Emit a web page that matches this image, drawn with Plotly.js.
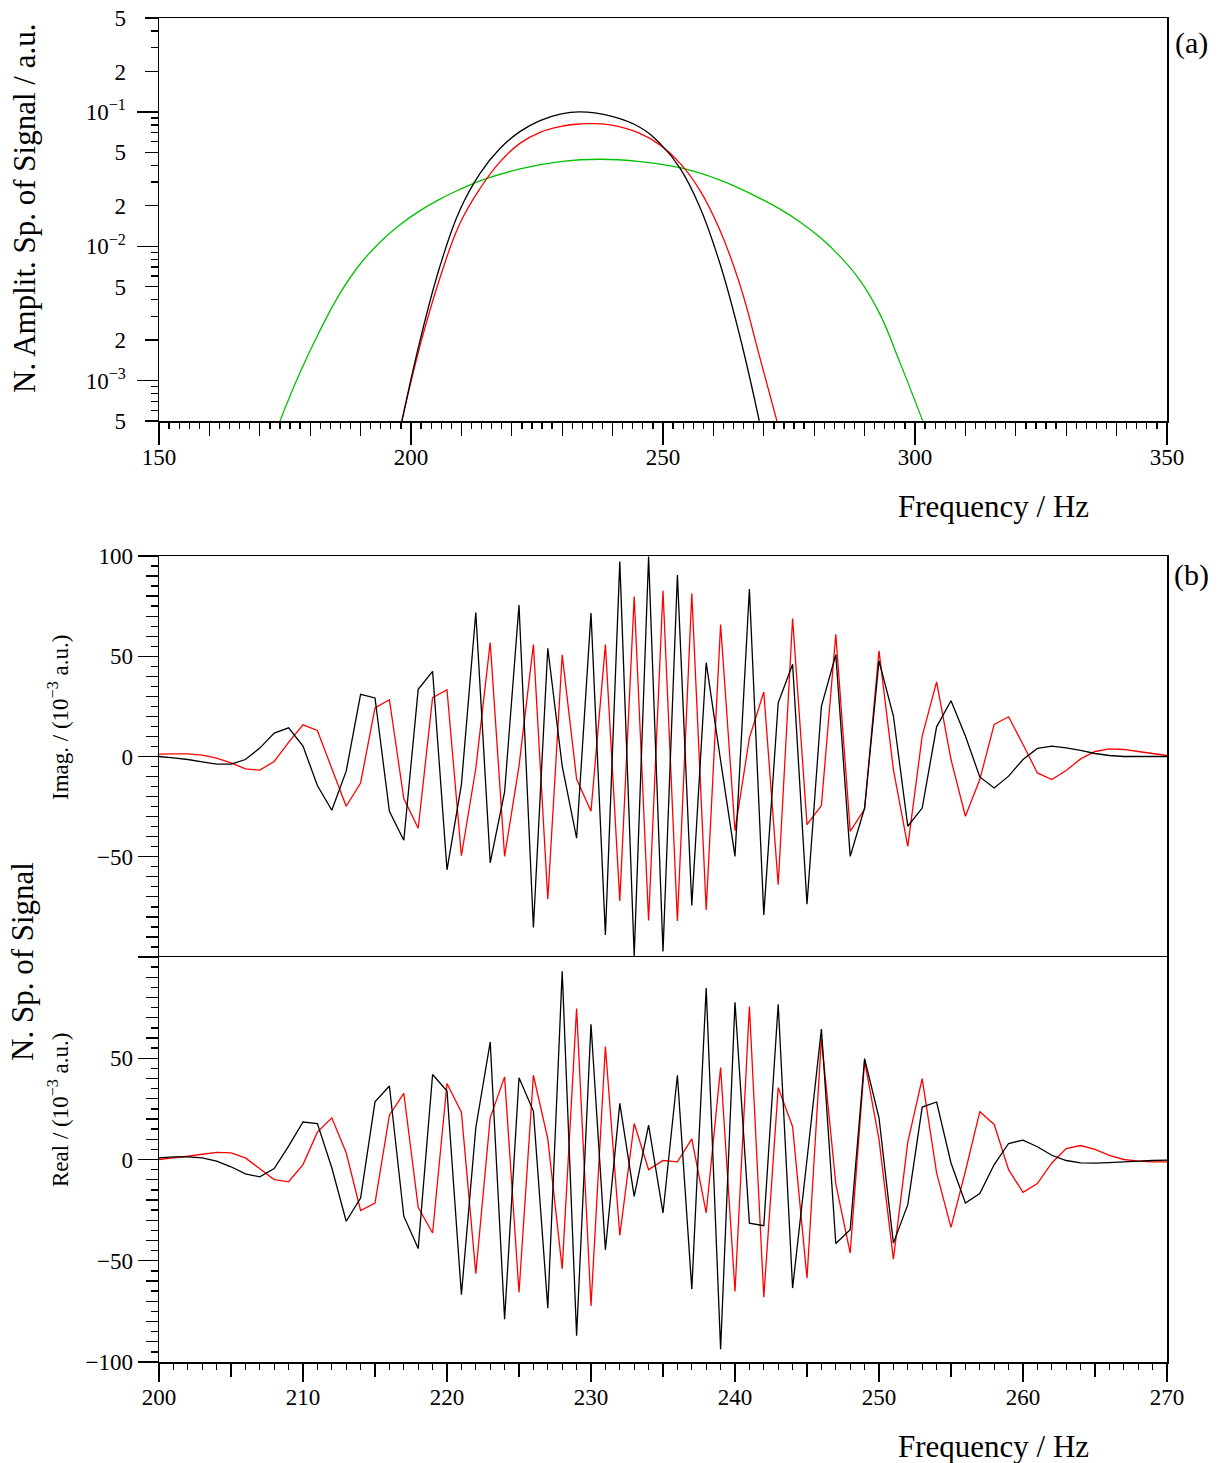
<!DOCTYPE html>
<html><head><meta charset="utf-8">
<script src="https://cdn.plot.ly/plotly-3.0.1.min.js"></script>
<style>html,body{margin:0;padding:0;background:#fff}#chart{width:1221px;height:1463px}</style>
</head><body><div id="chart"></div><script>
// ---- Panel (a): normalized amplitude spectra (log scale) ----
const ampFreqBlack = [198.2, 201.8, 205.8, 209.7, 213.7, 217.7, 221.6, 225.6, 229.6, 233.5, 239.5, 245.4, 249.4, 253.4, 257.3, 261.3, 265.3, 269.1];
const ampBlack = [0.000501, 0.00199, 0.00721, 0.01858, 0.0349, 0.0536, 0.0713, 0.0861, 0.0962, 0.1, 0.0933, 0.0769, 0.0583, 0.0380, 0.0196, 0.00743, 0.00210, 0.000501];
const ampFreqRed = [198.2, 201.8, 205.8, 209.7, 213.7, 217.7, 221.6, 225.6, 229.6, 233.5, 235.5, 239.5, 245.4, 249.4, 253.4, 257.3, 261.3, 265.3, 269.2, 272.6];
const ampRed = [0.000501, 0.00182, 0.00590, 0.01476, 0.0269, 0.0426, 0.0583, 0.0705, 0.0778, 0.0813, 0.0818, 0.0800, 0.0693, 0.0568, 0.0414, 0.0262, 0.01315, 0.00512, 0.00149, 0.000501];
const ampFreqGreen = [174.0, 177.98, 181.94, 185.91, 189.88, 193.85, 197.82, 201.79, 205.75, 209.72, 213.69, 221.63, 229.56, 237.5, 245.44, 253.37, 261.31, 265.28, 269.25, 273.21, 277.18, 281.15, 285.12, 289.09, 293.06, 297.02, 301.53];
const ampGreen = [0.000501, 0.001148, 0.00236, 0.00446, 0.00734, 0.01072, 0.01445, 0.01841, 0.02244, 0.0265, 0.0307, 0.0376, 0.0426, 0.0444, 0.0426, 0.0384, 0.0311, 0.02685, 0.0227, 0.01888, 0.01517, 0.01167, 0.00841, 0.00557, 0.00311, 0.00136, 0.000501];

// ---- Panel (b): imaginary and real parts (10^-3 a.u.) ----
const freq = [200,201,202,203,204,205,206,207,208,209,210,211,212,213,214,215,216,217,218,219,220,221,222,223,224,225,226,227,228,229,230,231,232,233,234,235,236,237,238,239,240,241,242,243,244,245,246,247,248,249,250,251,252,253,254,255,256,257,258,259,260,261,262,263,264,265,266,267,268,269,270];
const imagBlack = [0,-0.7,-1.5,-2.7,-3.8,-3.8,-1.5,4.2,11.7,14.3,5.2,-14.5,-26.8,-7.3,31,29.2,-27.3,-41.8,33.5,42.5,-56.5,-14,71.8,-53,-17.7,75.5,-85.3,54,-4.8,-40.7,71.5,-89,97.2,-99.5,99.8,-97.3,90.5,-74.3,46.8,-2,-49.8,83.5,-79,26.8,46,-73.7,25,50.8,-49.8,-25.7,47.7,20.2,-34.8,-25.7,14.8,27.8,10.2,-10.2,-15.7,-9.8,-1.5,4,5.2,4.3,3,1.5,0.5,0,0,0,0];
const imagRed = [1.2,1.3,1.3,0.7,-0.8,-3.2,-6.2,-6.8,-2.5,7,15.8,13,-6,-24.8,-13.2,24.2,28.3,-21,-35.8,29.3,33.3,-49.5,-6,56.8,-49.8,-4.8,55.8,-71.2,50.7,-11.2,-27.3,55.8,-72,79.8,-81.8,82.7,-82,81.3,-76.5,65.8,-37,9.3,32.2,-64,68.8,-34,-24.5,61,-37.3,-26.2,52.7,-6.5,-44.8,10.2,37.2,-1.5,-29.8,-11.5,16,19.8,6,-8.2,-11.5,-7,-1.2,2.5,3.8,3.5,2.5,1.5,0.5];
const realBlack = [0.8,1.3,1.3,0.8,-0.8,-3.6,-7.1,-8.6,-4.5,6.6,18.5,17.7,-4.1,-30.5,-19,28.5,36.3,-28,-44,42,33.8,-66.8,15.7,58,-78.9,40.4,23.9,-73.4,92.9,-87,66.8,-44.6,27.7,-18.2,17,-26.4,41.6,-64,84.7,-93.7,77.6,-31.4,-32.7,76.7,-63.5,0,64.4,-41.5,-34.7,49.8,20.6,-41.3,-22.3,25.9,28.4,-1.7,-21.5,-16.8,-2.5,7.9,9.6,6.3,2.1,-0.5,-1.7,-1.8,-1.5,-1.2,-0.8,-0.5,-0.3];
const realRed = [0,0.8,1.6,2.6,3.5,3.3,0.8,-4.6,-9.9,-11,-2.5,13.5,20.6,3.3,-25.2,-21.5,21.9,32.7,-23.6,-36.3,37.5,23.4,-56.4,20.6,40.8,-65.7,41.6,10.2,-54,74.6,-72.3,55.8,-37.5,17.8,-5,-0.5,-1.2,10.2,-26.4,45.4,-65.2,75.6,-68,35.5,16.2,-58.6,59.7,-12,-46.2,48.7,9.9,-49.2,8.6,39.9,-6.6,-33.5,-5.8,23.6,17.3,-5,-16.2,-11.9,-1.7,5.4,6.9,5,2,0,-0.8,-1.2,-1.2];

// tick labels
const ampTickVals = [0.0005, 0.001, 0.002, 0.005, 0.01, 0.02, 0.05, 0.1, 0.2, 0.5];
const ampTickText = ['5', '10<sup>−3</sup>', '2', '5', '10<sup>−2</sup>', '2', '5', '10<sup>−1</sup>', '2', '5'];
const ampDecades = [0.001, 0.01, 0.1];
const ampMinor = [0.0006,0.0007,0.0008,0.0009,0.003,0.004,0.006,0.007,0.008,0.009,0.03,0.04,0.06,0.07,0.08,0.09,0.3,0.4];
const imagTickVals = [-100, -50, 0, 50, 100];
const imagTickText = ['', '−50', '0', '50', '100'];
const realTickVals = [-100, -50, 0, 50, 100];
const realTickText = ['−100', '−50', '0', '50', ''];

const W = 1221, H = 1463;
const FONT = 'Liberation Serif, Times New Roman, serif';
const px = v => v / W, py = v => 1 - v / H;
const xdom = [px(159), px(1167)];
const lw = 1.3;

const traces = [
  {x: ampFreqGreen, y: ampGreen, mode: 'lines', line: {color: '#00c000', width: lw, shape: 'spline', smoothing: 1.2, simplify: false}, xaxis: 'x', yaxis: 'y'},
  {x: ampFreqRed, y: ampRed, mode: 'lines', line: {color: '#ff0000', width: lw, shape: 'spline', smoothing: 1.2, simplify: false}, xaxis: 'x', yaxis: 'y'},
  {x: ampFreqBlack, y: ampBlack, mode: 'lines', line: {color: '#000000', width: lw, shape: 'spline', smoothing: 1.2, simplify: false}, xaxis: 'x', yaxis: 'y'},
  {x: freq, y: imagRed, mode: 'lines', line: {color: '#ff0000', width: lw, simplify: false}, xaxis: 'x2', yaxis: 'y2'},
  {x: freq, y: imagBlack, mode: 'lines', line: {color: '#000000', width: lw, simplify: false}, xaxis: 'x2', yaxis: 'y2'},
  {x: freq, y: realRed, mode: 'lines', line: {color: '#ff0000', width: lw, simplify: false}, xaxis: 'x3', yaxis: 'y3'},
  {x: freq, y: realBlack, mode: 'lines', line: {color: '#000000', width: lw, simplify: false}, xaxis: 'x3', yaxis: 'y3'},
  // empty traces that only create the tick-only overlay axes
  {x: [], y: [], mode: 'lines', xaxis: 'x4', yaxis: 'y', hoverinfo: 'skip'},
  {x: [], y: [], mode: 'lines', xaxis: 'x', yaxis: 'y4', hoverinfo: 'skip'},
  {x: [], y: [], mode: 'lines', xaxis: 'x5', yaxis: 'y3', hoverinfo: 'skip'},
  {x: [], y: [], mode: 'lines', xaxis: 'x2', yaxis: 'y5', hoverinfo: 'skip'},
  {x: [], y: [], mode: 'lines', xaxis: 'x3', yaxis: 'y6', hoverinfo: 'skip'}
];

const tickFont = {family: FONT, size: 23, color: '#000'};
const base = {showgrid: false, zeroline: false, linecolor: '#000', linewidth: 1.5, tickcolor: '#000', tickwidth: 1.3, tickfont: tickFont, fixedrange: true};
const overlayBase = {showgrid: false, zeroline: false, showline: false, showticklabels: false, tickcolor: '#000', tickwidth: 1.3, ticks: 'outside', fixedrange: true};

const layout = {
  width: W, height: H,
  margin: {l: 0, r: 0, t: 0, b: 0},
  paper_bgcolor: '#fff', plot_bgcolor: '#fff',
  showlegend: false,
  font: {family: FONT, color: '#000'},
  xaxis: Object.assign({}, base, {domain: xdom, anchor: 'y', range: [150, 350], autorange: false, showline: true, mirror: true,
    ticks: 'outside', ticklen: 22, tickmode: 'array', tickvals: [150, 200, 250, 300, 350], ticklabelstandoff: -7,
    minor: {ticks: 'outside', ticklen: 13, dtick: 10, tick0: 150, tickcolor: '#000', tickwidth: 1.3}}),
  yaxis: Object.assign({}, base, {domain: [py(421), py(18)], anchor: 'x', type: 'log', range: [Math.log10(0.0005), Math.log10(0.5)], autorange: false,
    showline: true, mirror: true, ticks: 'outside', ticklen: 13, tickmode: 'array', tickvals: ampTickVals, ticktext: ampTickText, ticklabelstandoff: 14,
    minor: {ticks: 'outside', ticklen: 7, tickmode: 'array', tickvals: ampMinor, tickcolor: '#000', tickwidth: 1.3}}),
  xaxis4: Object.assign({}, overlayBase, {overlaying: 'x', anchor: 'y', range: [150, 350], autorange: false, tickmode: 'linear', dtick: 2, tick0: 150, ticklen: 7}),
  yaxis4: Object.assign({}, overlayBase, {overlaying: 'y', anchor: 'x', type: 'log', range: [Math.log10(0.0005), Math.log10(0.5)], autorange: false,
    tickmode: 'array', tickvals: ampDecades, ticklen: 21}),
  xaxis2: Object.assign({}, base, {domain: xdom, anchor: 'y2', side: 'top', range: [200, 270], autorange: false, showline: true, mirror: false, ticks: '', showticklabels: false}),
  yaxis2: Object.assign({}, base, {domain: [py(957), py(556)], anchor: 'x2', range: [-100, 100], autorange: false, showline: true, mirror: true,
    ticks: 'outside', ticklen: 20, tickmode: 'array', tickvals: imagTickVals, ticktext: imagTickText,
    minor: {ticks: 'outside', ticklen: 7, dtick: 5, tick0: 0, tickcolor: '#000', tickwidth: 1.3}}),
  yaxis5: Object.assign({}, overlayBase, {overlaying: 'y2', anchor: 'x2', range: [-100, 100], autorange: false, tickmode: 'linear', dtick: 10, tick0: 0, ticklen: 12}),
  xaxis3: Object.assign({}, base, {domain: xdom, anchor: 'y3', range: [200, 270], autorange: false, showline: true, mirror: true,
    ticks: 'outside', ticklen: 18, tickmode: 'linear', dtick: 10, tick0: 200, ticklabelstandoff: -4,
    minor: {ticks: 'outside', ticklen: 13, dtick: 5, tick0: 200, tickcolor: '#000', tickwidth: 1.3}}),
  xaxis5: Object.assign({}, overlayBase, {overlaying: 'x3', anchor: 'y3', range: [200, 270], autorange: false, tickmode: 'linear', dtick: 1, tick0: 200, ticklen: 7}),
  yaxis3: Object.assign({}, base, {domain: [py(1362), py(957)], anchor: 'x3', range: [-100, 100], autorange: false, showline: true, mirror: true,
    ticks: 'outside', ticklen: 20, tickmode: 'array', tickvals: realTickVals, ticktext: realTickText,
    minor: {ticks: 'outside', ticklen: 7, dtick: 5, tick0: 0, tickcolor: '#000', tickwidth: 1.3}}),
  yaxis6: Object.assign({}, overlayBase, {overlaying: 'y3', anchor: 'x3', range: [-100, 100], autorange: false, tickmode: 'linear', dtick: 10, tick0: 0, ticklen: 12}),
  annotations: [
    {text: '(a)', xref: 'paper', yref: 'paper', x: px(1191), y: py(43), xanchor: 'center', yanchor: 'middle', showarrow: false, font: {family: FONT, size: 30}},
    {text: '(b)', xref: 'paper', yref: 'paper', x: px(1191), y: py(575), xanchor: 'center', yanchor: 'middle', showarrow: false, font: {family: FONT, size: 30}},
    {text: 'Frequency / Hz', xref: 'paper', yref: 'paper', x: px(993), y: py(506), xanchor: 'center', yanchor: 'middle', showarrow: false, font: {family: FONT, size: 31}},
    {text: 'Frequency / Hz', xref: 'paper', yref: 'paper', x: px(993), y: py(1446), xanchor: 'center', yanchor: 'middle', showarrow: false, font: {family: FONT, size: 31}},
    {text: 'N. Amplit. Sp. of Signal / a.u.', textangle: -90, xref: 'paper', yref: 'paper', x: px(25), y: py(209), xanchor: 'center', yanchor: 'middle', showarrow: false, font: {family: FONT, size: 31}},
    {text: 'N. Sp. of Signal', textangle: -90, xref: 'paper', yref: 'paper', x: px(22), y: py(962), xanchor: 'center', yanchor: 'middle', showarrow: false, font: {family: FONT, size: 31}},
    {text: 'Imag. / (10<sup>−3</sup> a.u.)', textangle: -90, xref: 'paper', yref: 'paper', x: px(58), y: py(718), xanchor: 'center', yanchor: 'middle', showarrow: false, font: {family: FONT, size: 23}},
    {text: 'Real / (10<sup>−3</sup> a.u.)', textangle: -90, xref: 'paper', yref: 'paper', x: px(58), y: py(1110), xanchor: 'center', yanchor: 'middle', showarrow: false, font: {family: FONT, size: 23}}
  ]
};

Plotly.newPlot('chart', traces, layout, {staticPlot: true, displayModeBar: false});
</script></body></html>
